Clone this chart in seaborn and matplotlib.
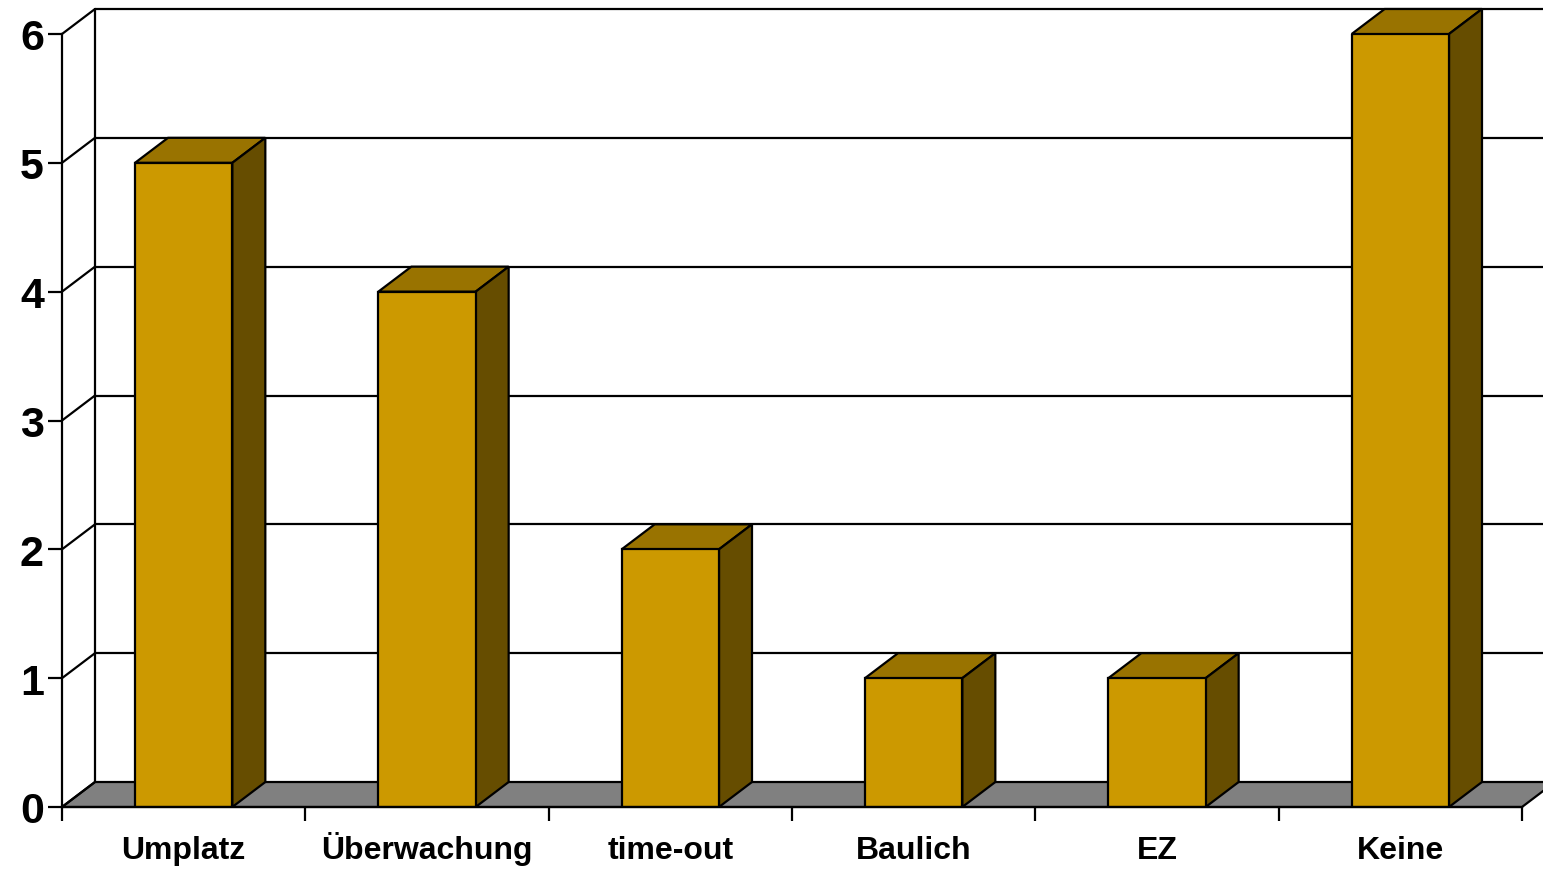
import numpy as np
import pandas as pd
import matplotlib
matplotlib.use("Agg")
import matplotlib.pyplot as plt
import seaborn as sns

categories = ["Umplatz", "Überwachung", "time-out", "Baulich", "EZ", "Keine"]
counts = [5, 4, 2, 1, 1, 6]
y_ticks = [0, 1, 2, 3, 4, 5, 6]

front_col = "#cc9900"
top_col = "#997300"
side_col = "#664d00"
floor_col = "#808080"

sns.set_style("white")
plt.rcParams["font.family"] = ["Liberation Sans", "DejaVu Sans"]
plt.rcParams["text.color"] = "black"
plt.rcParams["xtick.color"] = "black"
plt.rcParams["ytick.color"] = "black"

W, H = 1543, 870
fig = plt.figure(figsize=(W / 100, H / 100), dpi=100)
# front plane of the 3d box, in pixels
x0, x1, ytop, ybot = 62, 1522, 35, 808
ax = fig.add_axes([x0 / W, (H - ybot) / H, (x1 - x0) / W, (ybot - ytop) / H])

df = pd.DataFrame({"cat": categories, "n": counts})
bw = 0.4
lw = 1.6
sns.barplot(data=df, x="cat", y="n", color=front_col, width=bw, saturation=1,
            edgecolor="black", linewidth=lw, zorder=5, ax=ax)
for p in ax.patches:
    p.set_facecolor(front_col)

ax.set_xlim(-0.5, len(categories) - 0.5)
ax.set_ylim(0, 6)

# depth offset (33 px right, 25 px up) in data units
dx = 33 / ((x1 - x0) / len(categories))
dy = 25 / ((ybot - ytop) / 6)
xl, xr = -0.5, len(categories) - 0.5

# floor
ax.fill([xl, xr, xr + dx, xl + dx], [0, 0, dy, dy], facecolor=floor_col,
        edgecolor="black", linewidth=lw, zorder=2, clip_on=False)
# back wall grid and left wall
for v in y_ticks:
    if v > 0:
        ax.plot([xl + dx, xr + dx + 1], [v + dy, v + dy], color="black", lw=lw,
                zorder=1, clip_on=False)
    ax.plot([xl, xl + dx], [v, v + dy], color="black", lw=lw, zorder=3, clip_on=False)
ax.plot([xl + dx, xl + dx], [dy, 6 + dy], color="black", lw=lw, zorder=1, clip_on=False)

# 3d faces of the bars
for i, v in enumerate(counts):
    a, b = i - bw / 2, i + bw / 2
    ax.fill([a, b, b + dx, a + dx], [v, v, v + dy, v + dy], facecolor=top_col,
            edgecolor="black", linewidth=lw, zorder=4, clip_on=False)
    ax.fill([b, b + dx, b + dx, b], [0, dy, v + dy, v], facecolor=side_col,
            edgecolor="black", linewidth=lw, zorder=4, clip_on=False)

for s in ["top", "right"]:
    ax.spines[s].set_visible(False)
for s in ["left", "bottom"]:
    ax.spines[s].set_linewidth(lw)
    ax.spines[s].set_color("black")
    ax.spines[s].set_zorder(6)

ax.set_yticks(y_ticks)
ax.set_yticklabels([str(v) for v in y_ticks], fontsize=31, fontweight="bold")
ax.tick_params(axis="y", direction="out", length=10, width=lw, pad=3, left=True)

ax.set_xticks(range(len(categories)))
ax.set_xticklabels(categories, fontsize=23, fontweight="bold", va="baseline")
ax.set_xticks(np.arange(-0.5, len(categories)), minor=True)
ax.tick_params(axis="x", which="major", length=0, pad=37)
ax.tick_params(axis="x", which="minor", direction="out", length=10, width=lw, bottom=True)

ax.set_xlabel("")
ax.set_ylabel("")
ax.grid(False)

fig.savefig("out.png", dpi=100)
